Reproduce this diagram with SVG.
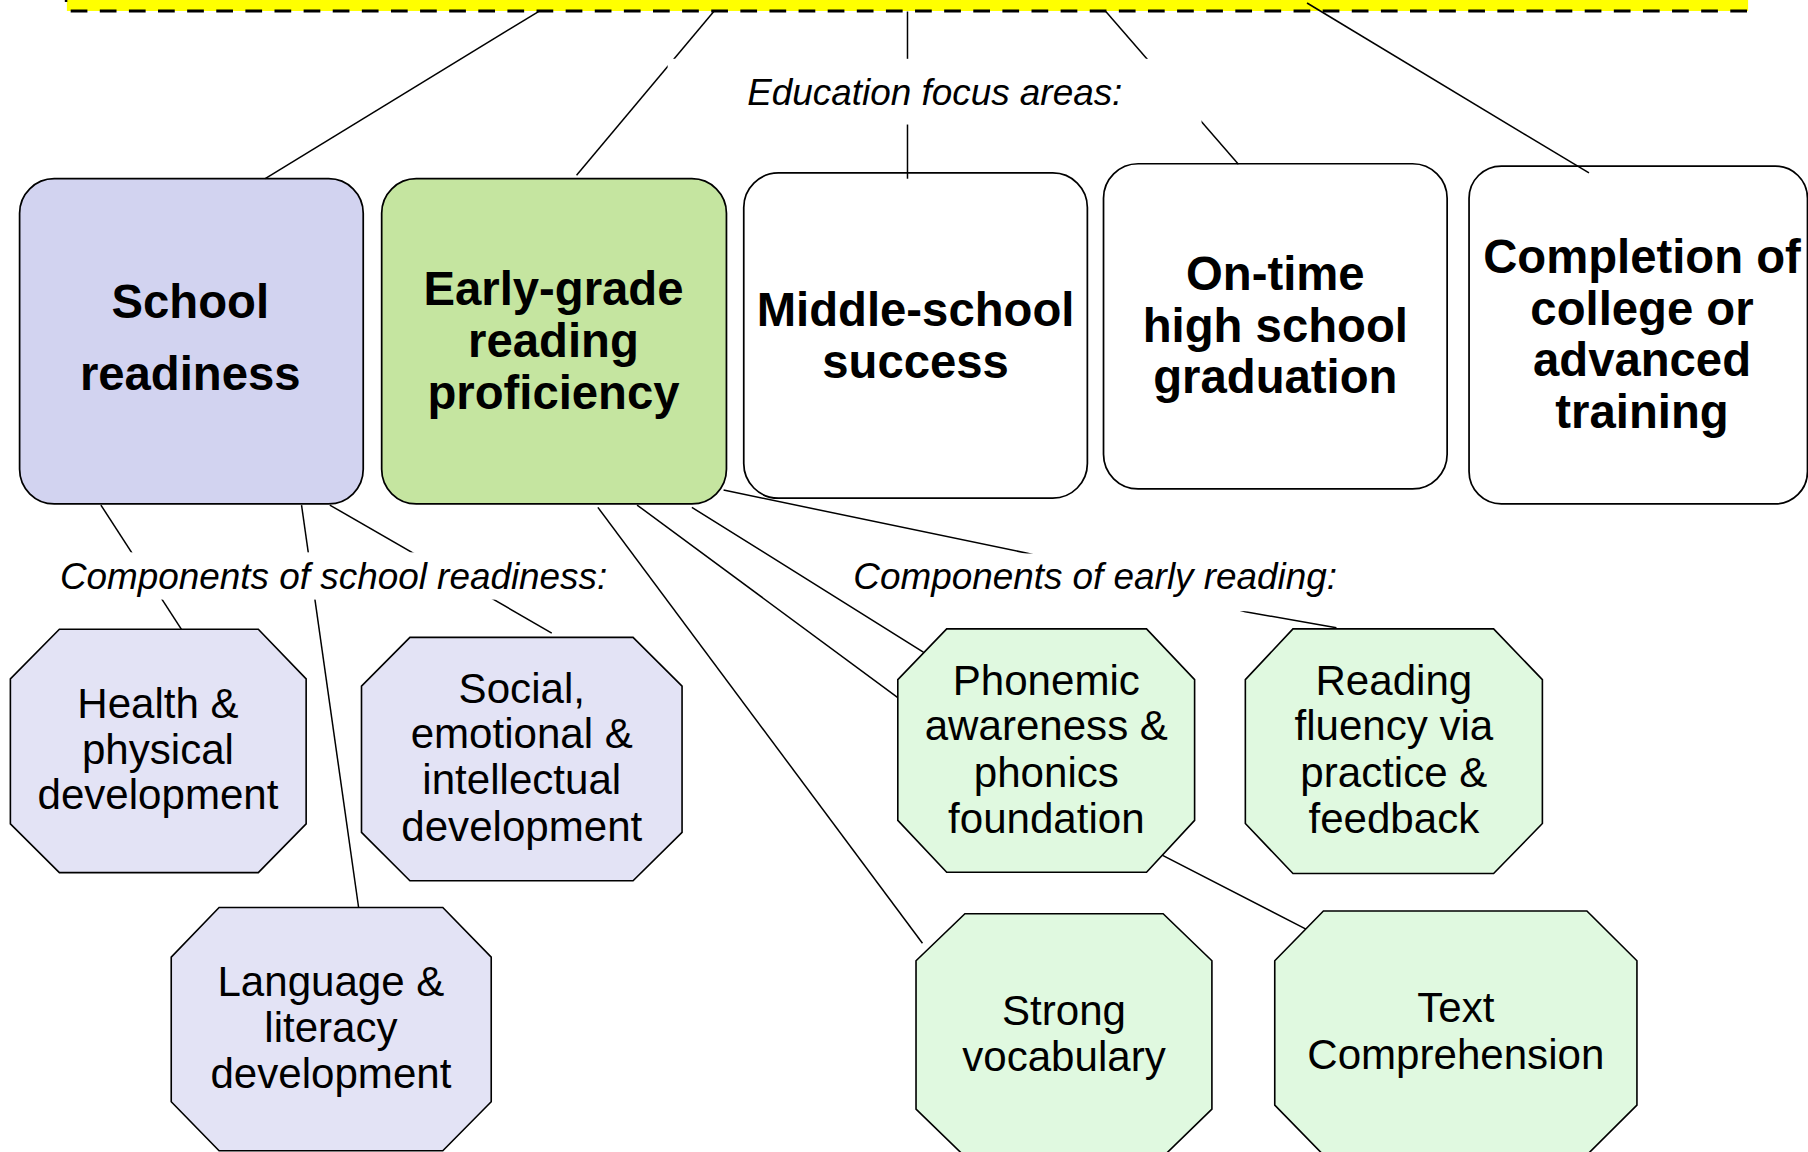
<svg xmlns="http://www.w3.org/2000/svg" width="1808" height="1152" viewBox="0 0 1808 1152">
<style>
.bg{fill:#ffffff}
.conn line,.conn polyline{stroke:#000;stroke-width:1.3;fill:none}
.box{stroke:#000;stroke-width:1.5}
.oct{stroke:#000;stroke-width:1.4}
.lav{fill:#d2d3f0}
.grn{fill:#c5e5a0}
.wht{fill:#ffffff}
.lavl{fill:#e3e3f5}
.grnl{fill:#e0f9e0}
.title{font-family:"Liberation Sans",Arial,sans-serif;font-weight:bold;font-size:41px;text-anchor:middle;fill:#000}
.comp{font-family:"Liberation Sans",Arial,sans-serif;font-size:36.5px;text-anchor:middle;fill:#000}
.lbl{font-family:"Liberation Sans",Arial,sans-serif;font-style:italic;font-size:32px;fill:#000}
</style>
<rect x="0" y="0" width="1808" height="1152" fill="#ffffff"/>
<g transform="scale(1.1531)">
  <g id="header-bar">
    <rect x="58" y="-20" width="1458" height="29.5" fill="#ffff00"/>
    <line x1="61.3" y1="9.5" x2="1516" y2="9.5" stroke="#000" stroke-width="2.6" stroke-dasharray="14.5 10.75"/>
    <line x1="57.3" y1="-5" x2="57.3" y2="1.7" stroke="#000" stroke-width="2.2"/>
  </g>
  <g id="school-readiness">
    <rect class="box lav" x="17" y="155" width="298" height="282" rx="30"/>
    <text class="title" x="165" y="276">School</text>
    <text class="title" x="165" y="338">readiness</text>
  </g>
  <g id="early-grade-reading">
    <rect class="box grn" x="331" y="155" width="299" height="282" rx="30"/>
    <text class="title" x="480" y="264.5">Early-grade</text>
    <text class="title" x="480" y="309.5">reading</text>
    <text class="title" x="480" y="354.5">proficiency</text>
  </g>
  <g id="middle-school">
    <rect class="box wht" x="645" y="150" width="298" height="282" rx="30"/>
    <text class="title" x="794" y="282.5">Middle-school</text>
    <text class="title" x="794" y="327.5">success</text>
  </g>
  <g id="high-school">
    <rect class="box wht" x="957" y="142" width="298" height="282" rx="30"/>
    <text class="title" x="1106" y="251.5">On-time</text>
    <text class="title" x="1106" y="296.5">high school</text>
    <text class="title" x="1106" y="341">graduation</text>
  </g>
  <g id="college">
    <rect class="box wht" x="1274" y="144" width="293.5" height="293" rx="28"/>
    <text class="title" x="1424" y="236.5">Completion of</text>
    <text class="title" x="1424" y="281.5">college or</text>
    <text class="title" x="1424" y="326.5">advanced</text>
    <text class="title" x="1424" y="371.5">training</text>
  </g>
  <g id="connectors" class="conn">
    <line x1="467" y1="10" x2="230" y2="155"/>
    <line x1="619" y1="10" x2="500" y2="152"/>
    <line x1="787" y1="10" x2="787" y2="155"/>
    <line x1="959" y1="10" x2="1074" y2="142.5"/>
    <line x1="1133.5" y1="2.6" x2="1378" y2="150"/>
    <line x1="87.5" y1="438" x2="157.5" y2="546"/>
    <line x1="261.5" y1="438" x2="311" y2="787"/>
    <line x1="286" y1="438" x2="478.5" y2="549"/>
    <line x1="518.5" y1="440" x2="800" y2="818"/>
    <line x1="552.5" y1="438" x2="778.6" y2="605"/>
    <polyline points="600,440 800,565 1008.7,742 1133,806"/>
    <polyline points="627.5,425 892,480 1080,530.5 1159,544.5"/>
  </g>
  <g id="label-focus-areas">
    <rect class="bg" x="579" y="51" width="463" height="57"/>
    <text class="lbl" x="648" y="91.5">Education focus areas:</text>
  </g>
  <g id="label-school-readiness">
    <rect class="bg" x="45" y="479" width="493" height="41"/>
    <text class="lbl" x="52" y="511">Components of school readiness:</text>
  </g>
  <g id="label-early-reading">
    <rect class="bg" x="746" y="480" width="421" height="50"/>
    <text class="lbl" x="740" y="511">Components of early reading:</text>
  </g>
  <g id="health">
    <polygon class="oct lavl" points="51.5,545.7 224,545.7 265.5,588.7 265.5,714.5 224,756.8 51.5,756.8 9,714.5 9,588.7"/>
    <text class="comp" x="137" y="623">Health &amp;</text>
    <text class="comp" x="137" y="662.5">physical</text>
    <text class="comp" x="137" y="702">development</text>
  </g>
  <g id="social">
    <polygon class="oct lavl" points="355.5,552.7 549,552.7 591.5,595 591.5,721.8 549,763.8 355.5,763.8 313.5,721.8 313.5,595"/>
    <text class="comp" x="452.5" y="609.5">Social,</text>
    <text class="comp" x="452.5" y="649">emotional &amp;</text>
    <text class="comp" x="452.5" y="689">intellectual</text>
    <text class="comp" x="452.5" y="729">development</text>
  </g>
  <g id="language">
    <polygon class="oct lavl" points="190,787 384,787 426,830 426,955.5 384,998 190,998 148.5,955.5 148.5,830"/>
    <text class="comp" x="287" y="864">Language &amp;</text>
    <text class="comp" x="287" y="904">literacy</text>
    <text class="comp" x="287" y="943.5">development</text>
  </g>
  <g id="phonemic">
    <polygon class="oct grnl" points="821,545.4 994.3,545.4 1036,589.4 1036,711.4 994.3,756.4 821,756.4 778.6,711.4 778.6,589.4"/>
    <text class="comp" x="907.4" y="602.4">Phonemic</text>
    <text class="comp" x="907.4" y="642">awareness &amp;</text>
    <text class="comp" x="907.4" y="682.5">phonics</text>
    <text class="comp" x="907.4" y="722">foundation</text>
  </g>
  <g id="fluency">
    <polygon class="oct grnl" points="1121.3,545.4 1295.3,545.4 1337.6,589.4 1337.6,714.2 1295.3,757.5 1121.3,757.5 1080,714.2 1080,589.4"/>
    <text class="comp" x="1208.8" y="602.4">Reading</text>
    <text class="comp" x="1208.8" y="642">fluency via</text>
    <text class="comp" x="1208.8" y="682.5">practice &amp;</text>
    <text class="comp" x="1208.8" y="722">feedback</text>
  </g>
  <g id="vocabulary">
    <polygon class="oct grnl" points="836.8,792.4 1008.7,792.4 1051,833.2 1051,961.9 1008.7,1003 836.8,1003 794.4,961.9 794.4,833.2"/>
    <text class="comp" x="922.7" y="888.7">Strong</text>
    <text class="comp" x="922.7" y="928.4">vocabulary</text>
  </g>
  <g id="comprehension">
    <polygon class="oct grnl" points="1147.7,790 1376.2,790 1419.6,833.2 1419.6,958.4 1376.2,1001.6 1147.7,1001.6 1105.5,958.4 1105.5,833.2"/>
    <text class="comp" x="1262.5" y="886.2">Text</text>
    <text class="comp" x="1262.5" y="927">Comprehension</text>
  </g>
</g>
</svg>
